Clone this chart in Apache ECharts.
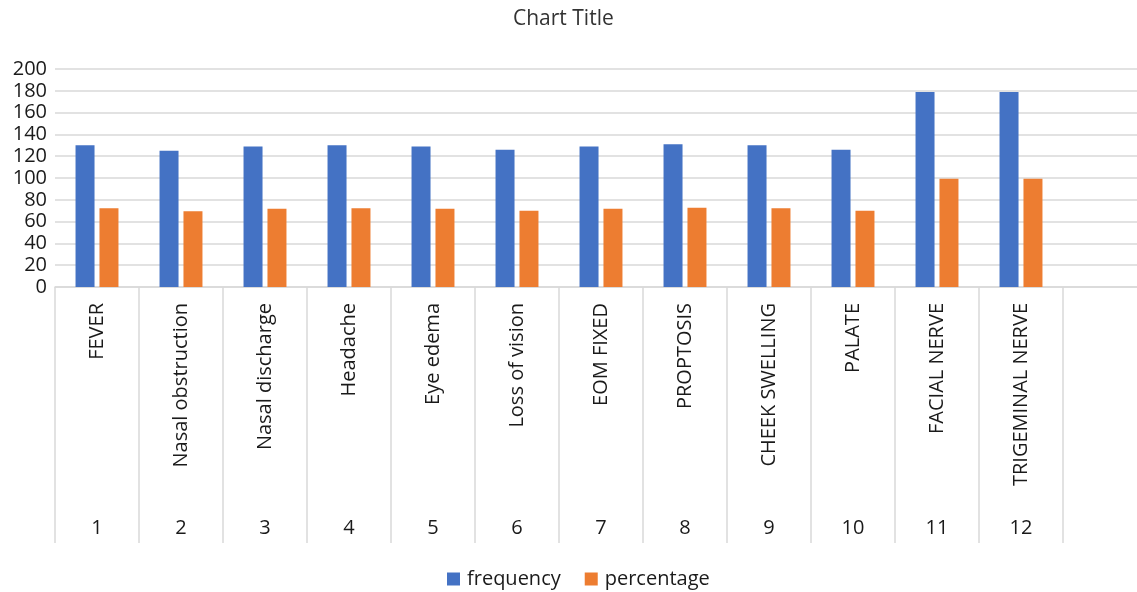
<!DOCTYPE html>
<html>
<head>
<meta charset="utf-8">
<style>
  html, body { margin: 0; padding: 0; background: #fff; overflow: hidden; }
  body { width: 1137px; height: 592px; }
  /* the plot area runs a little past the right edge of the page */
  #chart { width: 1147px; height: 592px; }
</style>
<script src="https://cdn.jsdelivr.net/npm/echarts@6/dist/echarts.min.js"></script>
</head>
<body>
<div id="chart"></div>
<script>
// Symptom names (outer label row) and their case numbers (lower row).
// The trailing empty slot keeps the extra blank column at the right edge.
const symptoms = ['FEVER', 'Nasal obstruction', 'Nasal discharge', 'Headache', 'Eye edema',
  'Loss of vision', 'EOM FIXED', 'PROPTOSIS', 'CHEEK SWELLING', 'PALATE',
  'FACIAL NERVE', 'TRIGEMINAL NERVE', ''];
const caseNumbers = ['1', '2', '3', '4', '5', '6', '7', '8', '9', '10', '11', '12', ''];

const frequency = [130, 125, 129, 130, 129, 126, 129, 131, 130, 126, 179, 179];
const percentage = [72.2, 69.4, 71.7, 72.2, 71.7, 70.0, 71.7, 72.8, 72.2, 70.0, 99.4, 99.4];

const yTicks = { min: 0, max: 200, interval: 20 };

const FONT = '"Open Sans", "Liberation Sans", sans-serif';
const GRID_LINE = '#d9d9d9';
const TEXT = '#1a1a1a';

const chart = echarts.init(document.getElementById('chart'), null, { renderer: 'canvas' });

chart.setOption({
  animation: false,
  title: {
    text: 'Chart Title',
    left: 508,
    top: 4,
    textStyle: { fontFamily: FONT, fontSize: 21, fontWeight: 'normal', color: '#333' }
  },
  legend: {
    bottom: -2,
    left: 442,
    itemWidth: 13,
    itemHeight: 13,
    itemGap: 24,
    icon: 'rect',
    textStyle: { fontFamily: FONT, fontSize: 20, color: TEXT, padding: [0, 0, 0, 2] },
    data: ['frequency', 'percentage']
  },
  grid: { left: 55, right: 0, top: 69, bottom: 305, containLabel: false },
  xAxis: [
    {
      type: 'category',
      data: symptoms,
      position: 'bottom',
      axisLine: { show: true, lineStyle: { color: GRID_LINE, width: 1.5 } },
      axisTick: { show: false },
      axisLabel: {
        interval: 0,
        rotate: 90,
        margin: 16,
        fontFamily: FONT,
        fontSize: 20,
        color: TEXT
      }
    },
    {
      type: 'category',
      data: caseNumbers,
      position: 'bottom',
      axisLine: { show: false },
      axisTick: { show: true, alignWithLabel: false, interval: 0, length: 256, lineStyle: { color: GRID_LINE, width: 1.5 } },
      axisLabel: {
        interval: 0,
        margin: 231,
        fontFamily: FONT,
        fontSize: 20,
        color: TEXT
      }
    }
  ],
  yAxis: {
    type: 'value',
    min: yTicks.min,
    max: yTicks.max,
    interval: yTicks.interval,
    axisLine: { show: false },
    axisTick: { show: false },
    splitLine: { lineStyle: { color: GRID_LINE, width: 1.5 } },
    axisLabel: { margin: 8, fontFamily: FONT, fontSize: 20, color: TEXT }
  },
  series: [
    {
      name: 'frequency',
      type: 'bar',
      xAxisIndex: 0,
      data: frequency,
      barWidth: 19,
      barGap: '26%',
      itemStyle: { color: '#4472C4' }
    },
    {
      name: 'percentage',
      type: 'bar',
      xAxisIndex: 0,
      data: percentage,
      barWidth: 19,
      itemStyle: { color: '#ED7D31' }
    }
  ]
});
</script>
</body>
</html>
